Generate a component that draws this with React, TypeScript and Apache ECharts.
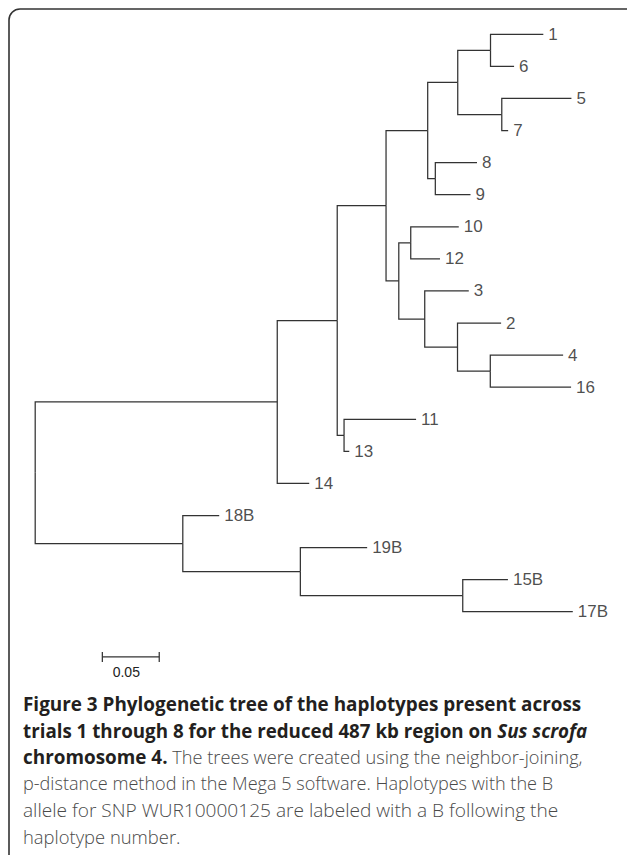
import React, { useEffect, useRef } from "react";
import * as echarts from "echarts";

// Tree topology: [id, parentId, branchLength, leafLabel]
const nodeIds = ["root","P","Q","14","R","A","S","11","13","B","C","D","E","F","G","1","6","5","7","8","9","H","I","10","12","3","J","2","K","4","16","18B","L","19B","M","15B","17B"];
const parentIds = ["", "root","root","P","P","R","R","S","S","A","A","B","B","D","D","F","F","G","G","E","E","C","C","H","H","I","I","J","J","K","K","Q","Q","L","L","M","M"];
const branchLengths = [0, 0.2127,0.1297,0.0281,0.0527,0.0429,0.0060,0.0633,0.0046,0.0366,0.0112,0.0264,0.0067,0.0288,0.0387,0.0464,0.0207,0.0612,0.0056,0.0366,0.0309,0.0105,0.0228,0.0422,0.0257,0.0387,0.0288,0.0383,0.0288,0.0640,0.0710,0.0320,0.1033,0.0587,0.1427,0.0397,0.0967];
// leaf order top to bottom
const leafOrder = ["1","6","5","7","8","9","10","12","3","2","4","16","11","13","14","18B","19B","15B","17B"];
const scaleBarLength = 0.05;
const scaleBarLabel = "0.05";
const scaleBarStart = 0.059;
const scaleBarRow = 19.41;

const captionLines = [
  [["b", "Figure 3 Phylogenetic tree of the haplotypes present across"]],
  [["b", "trials 1 through 8 for the reduced 487 kb region on "], ["bi", "Sus scrofa"]],
  [["b", "chromosome 4."], ["r", " The trees were created using the neighbor-joining,"]],
  [["r", "p-distance method in the Mega 5 software. Haplotypes with the B"]],
  [["r", "allele for SNP WUR10000125 are labeled with a B following the"]],
  [["r", "haplotype number."]],
];

function buildTree() {
  const idx: Record<string, number> = {};
  nodeIds.forEach((id, i) => (idx[id] = i));
  const children: Record<string, string[]> = {};
  nodeIds.forEach((id, i) => {
    const p = parentIds[i];
    if (p) (children[p] = children[p] || []).push(id);
  });
  const depth: Record<string, number> = {};
  const yPos: Record<string, number> = {};
  const calcDepth = (id: string, d: number) => {
    depth[id] = d;
    (children[id] || []).forEach((c) => calcDepth(c, d + branchLengths[idx[c]]));
  };
  calcDepth("root", 0);
  const calcY = (id: string): number => {
    const ch = children[id];
    if (!ch) {
      yPos[id] = leafOrder.indexOf(id);
    } else {
      const ys = ch.map(calcY);
      yPos[id] = (Math.min(...ys) + Math.max(...ys)) / 2;
    }
    return yPos[id];
  };
  calcY("root");
  const branches: number[][] = [];
  nodeIds.forEach((id, i) => {
    const p = parentIds[i];
    if (!p) return;
    branches.push([depth[p], yPos[p], depth[id], yPos[id]]);
  });
  const leaves = leafOrder.map((l) => ({ name: l, value: [depth[l], yPos[l]] }));
  return { branches, leaves };
}

export default function App() {
  const ref = useRef<HTMLDivElement>(null);
  useEffect(() => {
    if (!ref.current) return;
    const chart = echarts.init(ref.current, null, { renderer: "svg" });
    const { branches, leaves } = buildTree();
    const rowPx = 32.08;
    const unitPx = 1138;
    const captionFont = "'Open Sans', sans-serif";
    const boldSizes = [18.9, 18.75, 18.9, 18.9, 18.9, 18.9];
    const regSizes = [18.2, 18.2, 18.2, 18.1, 19.1, 18.4];
    const captionTexts = captionLines.map((line, i) => ({
      type: "text",
      left: 23,
      top: 694 + i * 26.67,
      style: {
        text: line.map(([k, t]) => `{${k}|${t}}`).join(""),
        rich: {
          b: { fontFamily: captionFont, fontWeight: "bold", fontSize: boldSizes[i], fill: "#231f20", lineHeight: 20 },
          bi: { fontFamily: captionFont, fontWeight: "bold", fontStyle: "italic", fontSize: boldSizes[i], fill: "#231f20", lineHeight: 20 },
          r: { fontFamily: captionFont, fontWeight: 300, fontSize: regSizes[i], fill: "#4a4a4a", lineHeight: 20 },
        },
      },
    }));
    chart.setOption({
      animation: false,
      grid: { left: 35.2, top: 34.3, width: 0.5 * unitPx, height: 21 * rowPx },
      xAxis: { type: "value", min: 0, max: 0.5, show: false },
      yAxis: { type: "value", min: 0, max: 21, inverse: true, show: false },
      graphic: [
        {
          type: "rect",
          shape: { x: 9, y: 9, width: 700, height: 900, r: 11 },
          style: { fill: "none", stroke: "#333", lineWidth: 1.6 },
        },
        ...captionTexts,
      ],
      series: [
        {
          type: "custom",
          clip: false,
          data: branches,
          renderItem: (params: any, api: any) => {
            const p = api.coord([api.value(0), api.value(1)]);
            const c = api.coord([api.value(2), api.value(3)]);
            return {
              type: "polyline",
              shape: { points: [p, [p[0], c[1]], c] },
              style: { stroke: "#333", lineWidth: 1.25, fill: "none" },
            };
          },
        },
        {
          type: "scatter",
          data: leaves,
          symbolSize: 0,
          silent: true,
          label: {
            show: true,
            position: "right",
            distance: 5,
            formatter: "{b}",
            fontFamily: "'Liberation Sans', Arial, sans-serif",
            fontSize: 17,
            color: "#1e1e1e",
          },
        },
        {
          type: "custom",
          clip: false,
          data: [[scaleBarStart, scaleBarStart + scaleBarLength, scaleBarRow]],
          renderItem: (params: any, api: any) => {
            const a = api.coord([api.value(0), api.value(2)]);
            const b = api.coord([api.value(1), api.value(2)]);
            const st = { stroke: "#333", lineWidth: 1.25, fill: "none" };
            return {
              type: "group",
              children: [
                { type: "line", shape: { x1: a[0], y1: a[1], x2: b[0], y2: b[1] }, style: st },
                { type: "line", shape: { x1: a[0], y1: a[1] - 5, x2: a[0], y2: a[1] + 5 }, style: st },
                { type: "line", shape: { x1: b[0], y1: b[1] - 5, x2: b[0], y2: b[1] + 5 }, style: st },
                {
                  type: "text",
                  x: (a[0] + b[0]) / 2 - 4.5,
                  y: a[1] + 15,
                  style: {
                    text: scaleBarLabel,
                    align: "center",
                    verticalAlign: "middle",
                    fontFamily: "'Liberation Sans', Arial, sans-serif",
                    fontSize: 14,
                    fill: "#222",
                  },
                },
              ],
            };
          },
        },
      ],
    });
    return () => chart.dispose();
  }, []);
  return <div ref={ref} style={{ width: 627, height: 855, position: "absolute", left: 0, top: 0 }} />;
}
